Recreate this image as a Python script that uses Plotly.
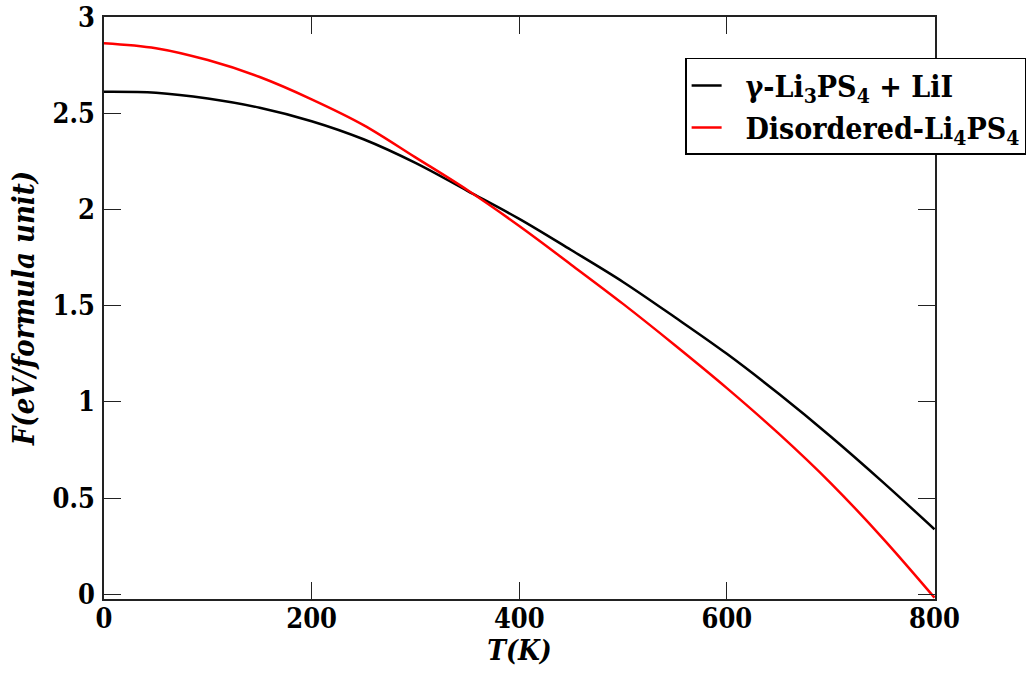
import plotly.graph_objects as go

T = [0, 50, 100, 150, 200, 250, 300, 350, 400, 450, 500, 550, 600, 650, 700, 750, 800]
F_gamma = [2.613, 2.608, 2.578, 2.530, 2.460, 2.366, 2.243, 2.098, 1.952, 1.790, 1.624, 1.440, 1.250, 1.042, 0.820, 0.584, 0.338]
F_disordered = [2.866, 2.840, 2.778, 2.690, 2.574, 2.440, 2.272, 2.102, 1.915, 1.714, 1.510, 1.295, 1.072, 0.835, 0.578, 0.292, -0.018]

name_gamma = "\u00a0\u00a0γ-Li<sub>3</sub>PS<sub>4</sub> + LiI"
name_dis = "\u00a0\u00a0Disordered-Li<sub>4</sub>PS<sub>4</sub>"

FONT_C = "DejaVu Serif Condensed"

fig = go.Figure()
fig.add_trace(go.Scatter(x=T, y=F_gamma, mode="lines", name=name_gamma,
                         line=dict(color="black", width=2.5, shape="spline", smoothing=1.0)))
fig.add_trace(go.Scatter(x=T, y=F_disordered, mode="lines", name=name_dis,
                         line=dict(color="#ff0000", width=2.5, shape="spline", smoothing=1.0)))

axis_common = dict(
    showgrid=False, zeroline=False, showline=True, linecolor="#222222", linewidth=1.5,
    mirror="ticks", ticks="inside", ticklen=17, tickwidth=1.3, tickcolor="#222222",
    ticklabeloverflow="allow", automargin=False,
    tickfont=dict(family=FONT_C, size=27, color="black", weight="bold"),
)

fig.update_xaxes(range=[0, 800.5], tickmode="array", tickvals=[0, 200, 400, 600, 800],
                 title=dict(text="<b><i>T(K)</i></b>", font=dict(family=FONT_C, size=28, color="black"), standoff=0),
                 ticklabelstandoff=-5, **axis_common)
fig.update_yaxes(range=[-0.025, 3.002], tickmode="array", tickvals=[0, 0.5, 1, 1.5, 2, 2.5, 3],
                 ticktext=["0", "0.5", "1", "1.5", "2", "2.5", "3"],
                 title=dict(text="<b><i>F(eV/formula unit)</i></b>", font=dict(family=FONT_C, size=29, color="black"), standoff=9),
                 ticklabelstandoff=2, **axis_common)

fig.update_layout(
    width=1026, height=677,
    margin=dict(l=104, r=91, t=17, b=78, autoexpand=False),
    paper_bgcolor="white", plot_bgcolor="white",
    showlegend=True,
    legend=dict(x=0.6993, y=0.9296, xanchor="left", yanchor="top",
                bgcolor="white", bordercolor="black", borderwidth=1.5,
                font=dict(family=FONT_C, size=30, color="black", weight="bold"),
                tracegroupgap=0, itemwidth=30),
)

fig.write_html("out.html")
